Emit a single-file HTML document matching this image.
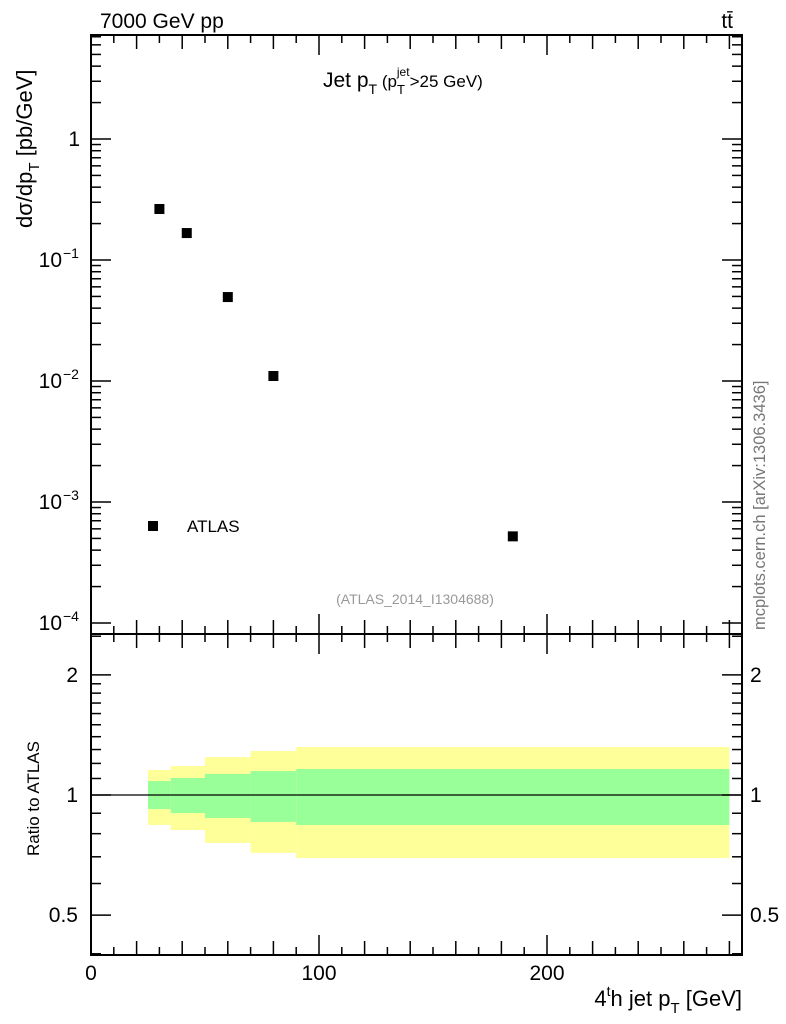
<!DOCTYPE html>
<html><head><meta charset="utf-8"><style>
body{margin:0;background:#fff;}
svg{display:block;font-family:"Liberation Sans",sans-serif;}
</style></head><body>
<svg id="c" width="786" height="1024" xmlns="http://www.w3.org/2000/svg"></svg>
<script>
const xPts=[30,42,60,80,185];
const yVals=[0.264,0.167,0.0494,0.011,0.00052];
const binEdges=[25,35,50,70,90,280];
const yelHi=[1.155,1.182,1.245,1.289,1.319];
const yelLo=[0.841,0.817,0.758,0.716,0.695];
const grnHi=[1.084,1.103,1.129,1.148,1.162];
const grnLo=[0.922,0.901,0.876,0.856,0.841];
const xTicks=[0,100,200];
const yMainTicks=[1,0.1,0.01,0.001,0.0001];
const yMainLabels=[["1",""],["10","−1"],["10","−2"],["10","−3"],["10","−4"]];
const yRatioTicks=[0.5,1,2];
const yRatioLabels=["0.5","1","2"];

const L=91,R=742,T=35,M=634,B=955;
const X=v=>L+v*2.28;
const Y=v=>139-121*Math.log10(v);
const YR=v=>795-399*Math.log10(v);
const svg=document.getElementById('c');
const NS="http://www.w3.org/2000/svg";
function mk(tag,at,name,parent){const e=document.createElementNS(NS,tag);for(const k in at)e.setAttribute(k,at[k]);


(parent||svg).appendChild(e);return e;}
function line(x1,y1,x2,y2,name,w){return mk('line',{x1,y1,x2,y2,stroke:'#000','stroke-width':w||1},name);}
function text(x,y,s,name,opt){const t=mk('text',Object.assign({x,y,'font-size':21,fill:'#000'},opt||{}),name);t.textContent=s;return t;}

for(let i=0;i<binEdges.length-1;i++){
  const x1=X(binEdges[i]),x2=X(binEdges[i+1]);
  mk('rect',{x:x1,y:YR(yelHi[i]),width:x2-x1,height:YR(yelLo[i])-YR(yelHi[i]),fill:'#ffff99'},'yellow-band-'+i);
  mk('rect',{x:x1,y:YR(grnHi[i]),width:x2-x1,height:YR(grnLo[i])-YR(grnHi[i]),fill:'#99ff99'},'green-band-'+i);
}
line(L,YR(1),R,YR(1),'ratio-unity-line',1.2);

mk('rect',{x:L,y:T,width:R-L,height:M-T,fill:'none',stroke:'#000','stroke-width':2},'main-frame');
mk('rect',{x:L,y:M,width:R-L,height:B-M,fill:'none',stroke:'#000','stroke-width':2},'ratio-frame');

for(let v=0;v<=280;v+=10){
  const x=X(v);const len=v%100===0?20:(v%20===0?14:8);
  line(x,M,x,M-len,'x-tick-main',1.5);line(x,T,x,T+len,'x-tick-top',1.5);
  line(x,B,x,B-len,'x-tick-ratio',1.5);line(x,M,x,M+len,'x-tick-ratio-top',1.5);
}
xTicks.forEach(v=>text(X(v),980,String(v),'x-tick-label',{'text-anchor':'middle'}));

for(let d=-4;d<=0;d++){
  for(let k=1;k<10;k++){
    const v=k*Math.pow(10,d);const y=Y(v);if(y<T||y>M)continue;
    const len=k===1?20:10;
    line(L,y,L+len,y,'y-tick',1.5);line(R,y,R-len,y,'y-tick-right',1.5);
  }
}
for(let k=1;k<=7;k++){const y=Y(k*10);if(y>T){line(L,y,L+10,y,'y-tick',1.5);line(R,y,R-10,y,'y-tick-right',1.5);}}
yMainTicks.forEach((v,i)=>{
  const y=Y(v)+7;const lab=yMainLabels[i];
  if(!lab[1]){text(80,y,lab[0],'y-tick-label',{'text-anchor':'end'});}
  else{text(62,y,lab[0],'y-tick-label',{'text-anchor':'end'});
    text(63,y-9,lab[1],'y-tick-exponent',{'font-size':14});}
});

[0.4,0.5,0.6,0.7,0.8,0.9,1,1.1,1.2,1.3,1.4,1.5,1.6,1.7,1.8,1.9,2,2.5].forEach(v=>{
  const y=YR(v);const big=yRatioTicks.includes(v);const len=big?20:10;
  line(L,y,L+len,y,'ratio-y-tick',1.5);line(R,y,R-len,y,'ratio-y-tick-right',1.5);
});
yRatioTicks.forEach((v,i)=>{
  text(78,YR(v)+7,yRatioLabels[i],'ratio-y-label',{'text-anchor':'end'});
  text(750,YR(v)+7,yRatioLabels[i],'ratio-y-label-right');
});

xPts.forEach((v,i)=>mk('rect',{x:X(v)-5,y:Y(yVals[i])-5,width:10,height:10,fill:'#000'},'atlas-point'));

mk('rect',{x:148,y:521,width:10,height:10,fill:'#000'},'legend-marker');
text(187,532,'ATLAS','legend-label',{'font-size':17});

text(100,28,'7000 GeV pp','energy-label',{'font-size':21});
text(733,28,'tt̄','process-label',{'text-anchor':'end','font-size':21});
const tt=text(323,87,'','plot-title',{'font-size':21});
tt.innerHTML='Jet p<tspan dy="7" font-size="14">T</tspan><tspan dy="-7" font-size="17"> (p</tspan><tspan dy="7" font-size="13">T</tspan><tspan dy="-18" dx="-8" font-size="12">jet</tspan><tspan dy="11" font-size="17">&gt;25 GeV)</tspan>';
text(415,604,'(ATLAS_2014_I1304688)','analysis-id',{'font-size':14,fill:'#999','text-anchor':'middle'});
const yt=text(0,0,'','y-axis-title',{transform:'translate(32,228) rotate(-90)','font-size':22});
yt.innerHTML='dσ/dp<tspan dy="7" font-size="15">T</tspan><tspan dy="-7"> [pb/GeV]</tspan>';
text(0,0,'Ratio to ATLAS','ratio-axis-title',{transform:'translate(39,856) rotate(-90)','font-size':17});
const xt=text(742,1006,'','x-axis-title',{'text-anchor':'end','font-size':22});
xt.innerHTML='4<tspan dy="-10" font-size="14">t</tspan><tspan dy="10">h jet p</tspan><tspan dy="7" font-size="15">T</tspan><tspan dy="-7"> [GeV]</tspan>';
text(0,0,'mcplots.cern.ch [arXiv:1306.3436]','side-label',{transform:'translate(765,630) rotate(-90)','font-size':16.5,fill:'#777'});
</script>
</body></html>
